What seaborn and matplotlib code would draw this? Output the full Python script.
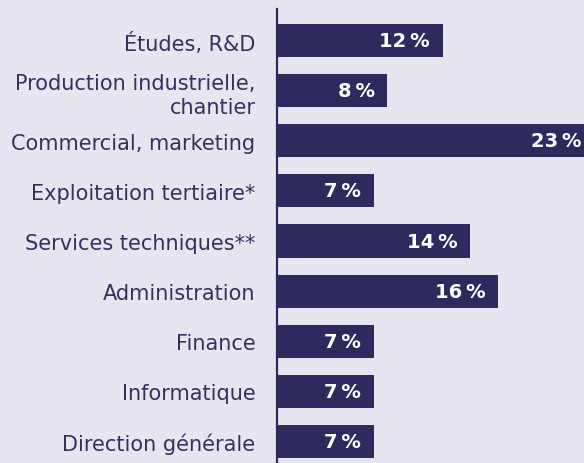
import pandas as pd
import matplotlib.pyplot as plt
import seaborn as sns

# Data
CATEGORIES = [
    "Études, R&D",
    "Production industrielle,\nchantier",
    "Commercial, marketing",
    "Exploitation tertiaire*",
    "Services techniques**",
    "Administration",
    "Finance",
    "Informatique",
    "Direction générale",
]
VALUES = [12, 8, 23, 7, 14, 16, 7, 7, 7]
VALUE_LABELS = ["12\u2009%", "8\u2009%", "23\u2009%", "7\u2009%", "14\u2009%",
                "16\u2009%", "7\u2009%", "7\u2009%", "7\u2009%"]

BG = "#e7e5ef"
BAR = "#2e2a5e"
TEXT = "#35315f"

sns.set_theme(style="white")
plt.rcParams["font.family"] = ["DejaVu Sans"]

df = pd.DataFrame({"cat": CATEGORIES, "val": VALUES})

fig = plt.figure(figsize=(5.84, 4.64), dpi=100, facecolor=BG)
ax = fig.add_axes([277 / 584, 0, 1 - 277 / 584, 1 - 10 / 464])
ax.set_facecolor(BG)

sns.barplot(data=df, y="cat", x="val", orient="h", color=BAR,
            width=0.66, saturation=1, linewidth=0, ax=ax)

ax.set_xlim(0, 22.25)
ax.set_ylim(8.43, -0.63)
ax.set_xlabel("")
ax.set_ylabel("")
ax.set_xticks([])
ax.tick_params(axis="y", length=0, pad=15.5, labelsize=15, labelcolor=TEXT)
for lab in ax.get_yticklabels():
    lab.set_multialignment("right")
    lab.set_linespacing(1.3)

for s in ["top", "right", "bottom"]:
    ax.spines[s].set_visible(False)
ax.spines["left"].set_color(BAR)
ax.spines["left"].set_linewidth(1.6)

# value labels inside the bars, right aligned
for i, (v, lab) in enumerate(zip(VALUES, VALUE_LABELS)):
    ax.annotate(lab, xy=(v, i), xytext=(-9, 0), textcoords="offset points",
                ha="right", va="center", color="white", fontsize=14,
                fontweight="heavy", annotation_clip=False, clip_on=False)

fig.savefig("out.png", dpi=100, facecolor=BG)
